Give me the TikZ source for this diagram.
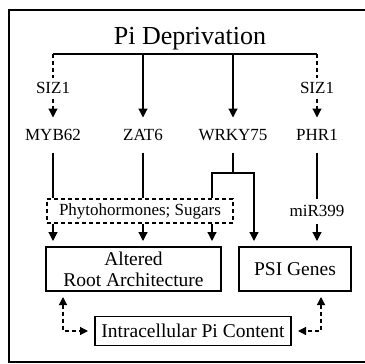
\documentclass[tikz,border=0pt]{standalone}
\usepackage{fontspec}
\setmainfont{Liberation Serif}
\usetikzlibrary{arrows.meta}
\tikzset{gene/.style={inner sep=0pt, outer ysep=12pt, text height=11pt, text depth=0pt, font=\fontsize{17}{17}\selectfont}}
\tikzset{tag/.style={gene, outer ysep=5pt}}
\tikzset{box/.style={draw, inner sep=0pt, outer ysep=6pt, align=center, font=\fontsize{19.5}{21}\selectfont}}
\tikzset{arr/.style={-{Triangle[width=9pt,length=9pt]}}}
\tikzset{darr/.style={arr, dash pattern=on 4pt off 3pt}}
\tikzset{both/.style={{Triangle[width=8pt,length=8pt]}-{Triangle[width=8pt,length=8pt]}, dash pattern=on 4pt off 3pt}}

\begin{document}
\begin{tikzpicture}[x=1pt, y=-1pt, line width=1.2pt]

    \useasboundingbox (0,0) rectangle (364,364);
    \draw[line width=1.8pt] (9,10) rectangle (372,362);

    \node[inner sep=0pt, text height=18pt, text depth=0pt, font=\fontsize{26}{26}\selectfont] (pi) at (190,35) {Pi Deprivation};
    \coordinate (bl) at (53,54);
    \coordinate (br) at (317,54);
    \draw (bl) -- (br);

    \node[tag] (siza) at (53,88)  {SIZ1};
    \node[tag] (sizb) at (317,88) {SIZ1};

    \node[gene] (myb)  at (53,135)  {MYB62};
    \node[gene] (zat)  at (143,135) {ZAT6};
    \node[gene] (wrky) at (233,135) {WRKY75};
    \node[gene] (phr)  at (317,135) {PHR1};

    \draw[dash pattern=on 4pt off 3pt] (bl) -- (siza);
    \draw[darr] (siza) -- (myb);
    \draw[dash pattern=on 4pt off 3pt] (br) -- (sizb);
    \draw[darr] (sizb) -- (phr);
    \draw[arr] (zat |- bl) -- (zat);
    \draw[arr] (wrky |- bl) -- (wrky);

    \node[draw, dash pattern=on 4pt off 3pt, inner sep=0pt, minimum width=186pt, minimum height=24pt, font=\fontsize{17}{17}\selectfont] (phyto) at (140,211) {Phytohormones; Sugars};
    \node[gene, outer ysep=7pt] (mir) at (317,211) {miR399};

    \node[box, minimum width=175pt, minimum height=44pt] (alt) at (133.5,269) {Altered\\Root Architecture};
    \node[box, minimum width=112pt, minimum height=44pt] (psi) at (295,269) {PSI Genes};
    \node[box, minimum width=196pt, minimum height=29pt, outer xsep=7pt] (intra) at (193,331) {Intracellular Pi Content};

    \draw (myb) -- (myb |- phyto.north);
    \draw (zat) -- (zat |- phyto.north);
    \coordinate (wl) at (212,173);
    \coordinate (wr) at (254,173);
    \draw (wrky) -- (wrky |- wl);
    \draw[arr] (wl |- phyto.north) |- (wr) -- (wr |- psi.north);
    \draw (phr) -- (mir);
    \draw[arr] (mir) -- (mir |- psi.north);

    \draw[arr] (phyto.south -| myb) -- (myb |- alt.north);
    \draw[arr] (phyto.south -| zat) -- (zat |- alt.north);
    \draw[arr] (phyto.south -| wl) -- (wl |- alt.north);

    \coordinate (lc) at (63,331);
    \coordinate (rc) at (321,331);
    \draw[both] (lc |- alt.south) |- (intra.west);
    \draw[both] (rc |- psi.south) |- (intra.east);

  \end{tikzpicture}
\end{document}
